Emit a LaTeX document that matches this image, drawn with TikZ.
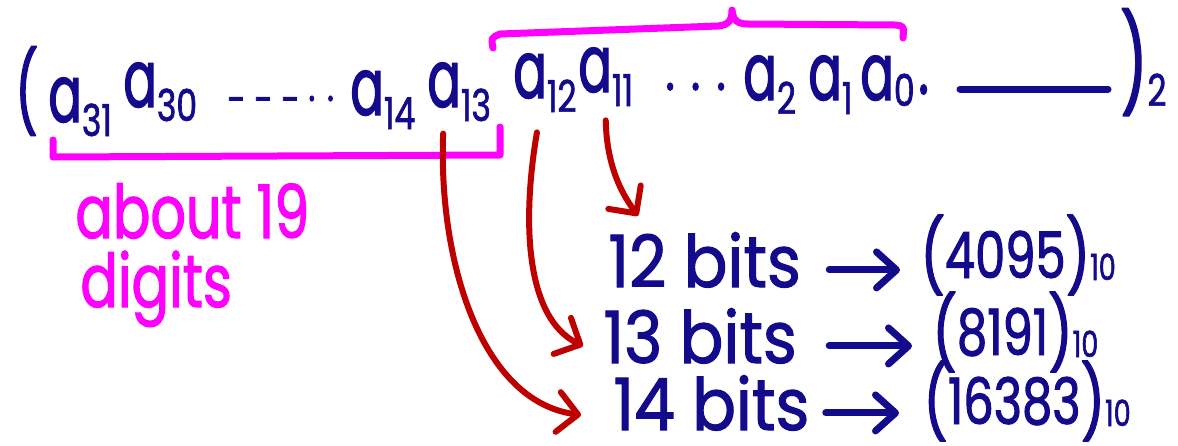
\documentclass[tikz,border=0pt]{standalone}
\usepackage{fontspec}
\setmainfont{Poppins}[FakeStretch=0.75,FakeBold=1.5]
\newfontfamily\wordfont{Poppins}[FakeStretch=0.9,FakeBold=1.5]
\newfontfamily\bitfont{Poppins}[FakeStretch=0.62,FakeBold=1.5]
\usepackage{xcolor}
\usetikzlibrary{arrows.meta}
\definecolor{inkblue}{RGB}{20,10,140}
\definecolor{inkpink}{RGB}{255,0,255}
\definecolor{inkred}{RGB}{190,0,0}
\newcommand{\lowsub}[2][-7pt]{\raisebox{#1}{\rmfamily\fontsize{22}{24}\selectfont #2}}
\newcommand{\valsub}[1]{\raisebox{-1pt}{\fontsize{18}{20}\selectfont #1}}
\newcommand{\hpar}[1]{\raisebox{-2pt}{\fontsize{36}{38}\selectfont #1}}
\tikzset{
  bitnode/.style={text=inkblue,inner sep=0pt,anchor=base west,font=\bitfont\fontsize{40}{44}\selectfont},
  rownode/.style={text=inkblue,inner sep=0pt,anchor=base west,font=\wordfont\fontsize{36}{40}\selectfont},
  valnode/.style={text=inkblue,inner sep=0pt,anchor=base west,font=\fontsize{32}{36}\selectfont},
  notelabel/.style={text=inkpink,inner sep=0pt,anchor=base west,font=\fontsize{37}{40}\selectfont},
  bracepath/.style={draw=inkpink,line width=3.5pt,line cap=round,line join=round},
  bitarrow/.style={-{Straight Barb[length=10pt,width=20pt,round]},draw=inkred,line width=3pt,line cap=round},
  valarrow/.style={-{Straight Barb[length=10pt,width=18pt,round]},draw=inkblue,line width=3.5pt,line cap=round}
}

\begin{document}
\begin{tikzpicture}[x=0.5pt,y=-0.5pt]
  \useasboundingbox (0,0) rectangle (1178,445);
  % the binary number
  \node[bitnode] (lpar) at (15,121) {(};
  \node[bitnode] (a31) at (48,122) {a\lowsub{31}};
  \node[bitnode] (a30) at (123,107) {a\lowsub{30}};
  \node[bitnode,font=\rmfamily\fontsize{22}{24}\selectfont] (gap1) at (227,101) {\raisebox{-7pt}{- - -} . .};
  \node[bitnode] (a14) at (350,115) {a\lowsub{14}};
  \node[bitnode] (a13) at (427,107) {a\lowsub{13}};
  \node[bitnode] (a12) at (513,98) {a\lowsub{12}};
  \node[bitnode] (a11) at (578,92) {a\lowsub{11}};
  \node[bitnode,font=\rmfamily\fontsize{30}{32}\selectfont] (gap2) at (665,90) {. . .};
  \node[bitnode] (a2) at (743,100) {a\lowsub{2}};
  \node[bitnode] (a1) at (808,100) {a\lowsub{1}};
  \node[bitnode] (a0) at (860,100) {a\lowsub[-3pt]{0}};
  \node[bitnode] (point) at (918,94) {.};
  \coordinate (fracL) at (960,89);
  \coordinate (fracR) at (1108,89);
  \draw[inkblue,line width=3.5pt,line cap=round] (fracL) -- (fracR);
  \node[bitnode,font=\bitfont\fontsize{48}{50}\selectfont] (rpar) at (1120,98) {)\lowsub[-4pt]{2}};
  % brackets
  \draw[bracepath] (53,140) -- (53,157) -- (500,155) -- (500,127);
  \draw[bracepath] (493,48) .. controls (491,38) .. (500,34) -- (718,26)
    .. controls (729,25) and (732,20) .. (732,10)
    .. controls (733,20) and (737,24) .. (748,24) -- (895,25)
    .. controls (904,26) .. (903,38);
  \node[notelabel] (note1) at (75,238) {about 19};
  \node[notelabel] (note2) at (80,307) {digits};
  % bit counts
  \node[rownode] (bits12) at (608,287) {12 bits};
  \node[rownode] (bits13) at (603,363) {13 bits};
  \node[rownode] (bits14) at (613,430) {14 bits};
  \node[valnode] (dec12) at (920,278) {\hpar{(}4095\hpar{)}\valsub{10}};
  \node[valnode] (dec13) at (932,355) {\hpar{(}8191\hpar{)}\valsub{10}};
  \node[valnode] (dec14) at (923,424) {\hpar{(}16383\hpar{)}\valsub{10}};
  \draw[valarrow,shorten <=14pt,shorten >=10pt] ([yshift=-5pt]bits12.east) -- ([yshift=-5pt]bits12.east -| dec12.west);
  \draw[valarrow,shorten <=16pt,shorten >=10pt] ([yshift=-5pt]bits13.east) -- ([yshift=-5pt]bits13.east -| dec13.west);
  \draw[valarrow,shorten <=8pt,shorten >=12pt] ([yshift=-5pt]bits14.east) -- ([yshift=-5pt]bits14.east -| dec14.west);
  % red pointers
  \draw[bitarrow] ([yshift=-7pt]a11.south) .. controls +(1,50) and +(-13,-18) .. ([xshift=15pt,yshift=8pt]bits12.north west);
  \draw[bitarrow] ([xshift=-4pt,yshift=-10pt]a12.south) .. controls +(-15,88) and +(-58,-28) .. ([xshift=-10pt,yshift=-5pt]bits13.west);
  \draw[bitarrow] ([xshift=-8pt,yshift=-6pt]a13.south) .. controls +(-5,127) and +(-100,-13) .. ([xshift=-16pt,yshift=-6pt]bits14.west);
\end{tikzpicture}
\end{document}
